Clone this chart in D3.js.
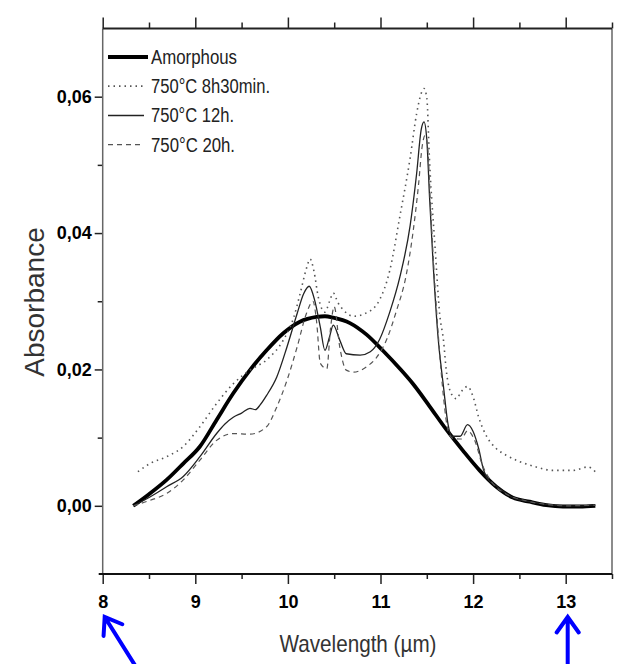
<!DOCTYPE html>
<html>
<head>
<meta charset="utf-8">
<script src="https://cdn.jsdelivr.net/npm/d3@7"></script>
<style>
  body { margin: 0; background: #ffffff; }
</style>
</head>
<body>
<div id="chart"></div>
<script>
// wavelength (um), absorbance
let amorphous = [
  [8.33, 0.0000], [8.50, 0.0017], [8.69, 0.0038], [8.87, 0.0062], [9.05, 0.0087],
  [9.23, 0.0126], [9.41, 0.0165], [9.59, 0.0199], [9.77, 0.0228], [9.95, 0.0253],
  [10.13, 0.0270], [10.31, 0.0277], [10.40, 0.0278], [10.49, 0.0276], [10.67, 0.0268],
  [10.85, 0.0251], [11.03, 0.0227], [11.21, 0.0201], [11.35, 0.0179], [11.53, 0.0146],
  [11.71, 0.0112], [11.89, 0.0081], [12.07, 0.0052], [12.25, 0.0028], [12.43, 0.0012],
  [12.61, 0.0006], [12.79, 0.0001], [12.97, -0.0001], [13.15, -0.0001], [13.32, 0.0000]
]
let h8m30 = [
  [8.38, 0.0050], [8.51, 0.0062], [8.69, 0.0072], [8.87, 0.0087], [9.05, 0.0116],
  [9.23, 0.0150], [9.41, 0.0179], [9.59, 0.0199], [9.77, 0.0214], [9.95, 0.0243],
  [10.06, 0.0275], [10.13, 0.0310], [10.20, 0.0348], [10.24, 0.0362], [10.28, 0.0345],
  [10.33, 0.0305], [10.40, 0.0284], [10.45, 0.0300], [10.49, 0.0312], [10.54, 0.0298],
  [10.60, 0.0287], [10.71, 0.0278], [10.85, 0.0283], [10.99, 0.0302], [11.10, 0.0345],
  [11.21, 0.0425], [11.32, 0.0510], [11.39, 0.0575], [11.44, 0.0605], [11.47, 0.0612],
  [11.50, 0.0598], [11.53, 0.0505], [11.59, 0.0378], [11.64, 0.0280], [11.68, 0.0243],
  [11.71, 0.0199], [11.77, 0.0163], [11.82, 0.0157], [11.87, 0.0167], [11.94, 0.0175],
  [12.00, 0.0160], [12.06, 0.0130], [12.15, 0.0101], [12.25, 0.0084], [12.36, 0.0074],
  [12.50, 0.0065], [12.68, 0.0057], [12.86, 0.0052], [13.08, 0.0052], [13.24, 0.0057],
  [13.32, 0.0050]
]
let h12 = [
  [8.33, 0.0000], [8.51, 0.0013], [8.69, 0.0028], [8.87, 0.0043], [9.05, 0.0072],
  [9.23, 0.0106], [9.32, 0.0120], [9.41, 0.0130], [9.50, 0.0136], [9.59, 0.0143],
  [9.65, 0.0141], [9.70, 0.0148], [9.77, 0.0162], [9.88, 0.0189], [9.99, 0.0233],
  [10.10, 0.0282], [10.17, 0.0311], [10.23, 0.0322], [10.29, 0.0301], [10.35, 0.0262],
  [10.40, 0.0228], [10.45, 0.0248], [10.49, 0.0265], [10.56, 0.0243], [10.63, 0.0223],
  [10.78, 0.0221], [10.89, 0.0226], [10.99, 0.0244], [11.10, 0.0284], [11.21, 0.0336],
  [11.32, 0.0411], [11.39, 0.0487], [11.44, 0.0552], [11.47, 0.0563], [11.50, 0.0537],
  [11.53, 0.0452], [11.57, 0.0351], [11.62, 0.0250], [11.68, 0.0175], [11.73, 0.0119],
  [11.77, 0.0102], [11.86, 0.0102], [11.94, 0.0119], [12.00, 0.0109], [12.06, 0.0084],
  [12.11, 0.0054], [12.15, 0.0041], [12.25, 0.0029], [12.43, 0.0012], [12.61, 0.0006],
  [12.79, 0.0002], [12.97, 0.0000], [13.15, 0.0000], [13.32, 0.0001]
]
let h20 = [
  [8.33, 0.0000], [8.51, 0.0008], [8.69, 0.0018], [8.87, 0.0038], [9.05, 0.0067],
  [9.23, 0.0096], [9.41, 0.0106], [9.59, 0.0105], [9.77, 0.0116], [9.88, 0.0145],
  [9.99, 0.0184], [10.10, 0.0233], [10.20, 0.0282], [10.27, 0.0300], [10.31, 0.0270],
  [10.35, 0.0209], [10.42, 0.0201], [10.46, 0.0260], [10.50, 0.0292], [10.56, 0.0233],
  [10.63, 0.0199], [10.71, 0.0196], [10.85, 0.0204], [10.96, 0.0218], [11.07, 0.0245],
  [11.17, 0.0285], [11.28, 0.0340], [11.35, 0.0400], [11.41, 0.0470], [11.45, 0.0527],
  [11.48, 0.0543], [11.51, 0.0525], [11.54, 0.0440], [11.58, 0.0340], [11.63, 0.0240],
  [11.68, 0.0160], [11.73, 0.0110], [11.78, 0.0099], [11.87, 0.0098], [11.94, 0.0110],
  [12.02, 0.0095], [12.10, 0.0060], [12.20, 0.0035], [12.36, 0.0017], [12.55, 0.0008],
  [12.79, 0.0002], [13.00, 0.0000], [13.32, 0.0001]
]
let seriesNames = ['Amorphous', '750°C 8h30min.', '750°C 12h.', '750°C 20h.']
let xMajorTicks = [8, 9, 10, 11, 12, 13]
let xMinorTicks = [8.5, 9.5, 10.5, 11.5, 12.5, 13.5]
let yMajorTicks = [0, 0.02, 0.04, 0.06]
let yMinorTicks = [0.01, 0.03, 0.05]
let arrowTargets = [8, 13]

let width = 625
let height = 664
let svg = d3.select('#chart')
  .append('svg')
  .attr('width', width)
  .attr('height', height)

svg.append('rect')
  .attr('width', width)
  .attr('height', height)
  .attr('fill', '#ffffff')

let x = d3.scaleLinear().domain([8, 13.5]).range([102.7, 612])
let y = d3.scaleLinear().domain([-0.01, 0.07]).range([574, 28.5])

let comma = d3.formatLocale({ decimal: ',', thousands: '.', grouping: [3], currency: ['', ''] }).format('.2f')

// axes
function styleAxis (g) {
  g.select('.domain').remove()
  g.selectAll('.tick line').attr('stroke', '#222').attr('stroke-width', 1.5)
  g.selectAll('.tick text')
    .attr('fill', '#000')
    .style('font-family', 'Liberation Sans, Arial, sans-serif')
    .style('font-weight', 'bold')
    .style('font-size', '18px')
}

svg.append('g')
  .attr('transform', 'translate(0,' + y.range()[0] + ')')
  .call(d3.axisBottom(x).tickValues(xMajorTicks).tickSize(10).tickPadding(11).tickFormat(d3.format('d')))
  .call(styleAxis)
svg.append('g')
  .attr('transform', 'translate(0,' + y.range()[0] + ')')
  .call(d3.axisBottom(x).tickValues(xMinorTicks).tickSize(5).tickFormat(''))
  .call(styleAxis)
svg.append('g')
  .attr('transform', 'translate(0,' + y.range()[1] + ')')
  .call(d3.axisTop(x).tickValues(xMajorTicks).tickSize(11).tickFormat(''))
  .call(styleAxis)
svg.append('g')
  .attr('transform', 'translate(0,' + y.range()[1] + ')')
  .call(d3.axisTop(x).tickValues(xMinorTicks).tickSize(6).tickFormat(''))
  .call(styleAxis)
svg.append('g')
  .attr('transform', 'translate(' + x.range()[0] + ',0)')
  .call(d3.axisLeft(y).tickValues(yMajorTicks).tickSize(8).tickPadding(3).tickFormat(comma))
  .call(styleAxis)
svg.append('g')
  .attr('transform', 'translate(' + x.range()[0] + ',0)')
  .call(d3.axisLeft(y).tickValues(yMinorTicks).tickSize(5).tickFormat(''))
  .call(styleAxis)

// frame
let frame = svg.append('g').attr('fill', 'none')
frame.append('line')
  .attr('x1', x.range()[0]).attr('x2', x.range()[0])
  .attr('y1', y.range()[1]).attr('y2', y.range()[0])
  .attr('stroke', '#666').attr('stroke-width', 1.5)
frame.append('line')
  .attr('x1', x.range()[1]).attr('x2', x.range()[1])
  .attr('y1', y.range()[1]).attr('y2', y.range()[0])
  .attr('stroke', '#666').attr('stroke-width', 1.5)
frame.append('line')
  .attr('x1', x.range()[0] - 4).attr('x2', x.range()[1])
  .attr('y1', y.range()[0]).attr('y2', y.range()[0])
  .attr('stroke', '#111').attr('stroke-width', 2)
frame.append('line')
  .attr('x1', x.range()[0]).attr('x2', x.range()[1])
  .attr('y1', y.range()[1]).attr('y2', y.range()[1])
  .attr('stroke', '#222').attr('stroke-width', 1.8)

// curves
let styles = [
  { stroke: '#000', width: 3.8, dash: null },
  { stroke: '#555', width: 1.6, dash: '1.5,4' },
  { stroke: '#222', width: 1.3, dash: null },
  { stroke: '#555', width: 1.2, dash: '5,4' }
]
let allSeries = [amorphous, h8m30, h12, h20]
let line = d3.line()
  .x(function (d) { return x(d[0]) })
  .y(function (d) { return y(d[1]) })
  .curve(d3.curveMonotoneX)

svg.append('g')
  .selectAll('path.series')
  .data(allSeries)
  .enter()
  .append('path')
  .attr('class', 'series')
  .attr('fill', 'none')
  .attr('d', line)
  .attr('stroke', function (d, i) { return styles[i].stroke })
  .attr('stroke-width', function (d, i) { return styles[i].width })
  .attr('stroke-dasharray', function (d, i) { return styles[i].dash })
  .attr('stroke-linejoin', 'round')

// legend
let legendLengths = [86, 119, 83, 84]
let legend = svg.append('g')
  .selectAll('g.legend')
  .data(seriesNames)
  .enter()
  .append('g')
  .attr('class', 'legend')
  .attr('transform', function (d, i) { return 'translate(0,' + (57 + i * 29.2) + ')' })

legend.append('line')
  .attr('x1', 108)
  .attr('x2', function (d, i) { return i === 0 ? 148 : 144 })
  .attr('stroke', function (d, i) { return styles[i].stroke })
  .attr('stroke-width', function (d, i) { return i === 0 ? 4 : styles[i].width + 0.2 })
  .attr('stroke-dasharray', function (d, i) { return styles[i].dash })

legend.append('text')
  .attr('x', 151)
  .attr('y', 7)
  .attr('textLength', function (d, i) { return legendLengths[i] })
  .attr('lengthAdjust', 'spacingAndGlyphs')
  .style('font-family', 'Liberation Sans Narrow, Arial Narrow, Liberation Sans, sans-serif')
  .style('font-size', '20px')
  .attr('fill', '#222')
  .text(function (d) { return d })

// axis titles
svg.append('text')
  .attr('transform', 'translate(44,302) rotate(-90)')
  .attr('text-anchor', 'middle')
  .style('font-family', 'Liberation Sans, Arial, sans-serif')
  .style('font-size', '28px')
  .attr('fill', '#333')
  .text('Absorbance')

svg.append('text')
  .attr('x', 358)
  .attr('y', 652)
  .attr('text-anchor', 'middle')
  .attr('textLength', 157)
  .attr('lengthAdjust', 'spacingAndGlyphs')
  .style('font-family', 'Liberation Sans Narrow, Arial Narrow, Liberation Sans, sans-serif')
  .style('font-size', '24px')
  .attr('fill', '#333')
  .text('Wavelength (µm)')

// blue arrows pointing at the axis ends
let arrowDx = [32, 0]
let arrows = svg.append('g')
  .selectAll('g.arrow')
  .data(arrowTargets)
  .enter()
  .append('g')
  .attr('class', 'arrow')
  .attr('fill', 'none')
  .attr('stroke', '#0000ff')
  .attr('stroke-width', 4)
  .attr('stroke-linecap', 'round')

arrows.append('path')
  .attr('d', function (d, i) {
    let tx = x(d) + 2
    let ty = 617
    let bx = tx + arrowDx[i]
    let by = 668
    let a = Math.atan2(by - ty, bx - tx)
    let len = 19
    let spread = 0.62
    let p1 = [tx + len * Math.cos(a - spread), ty + len * Math.sin(a - spread)]
    let p2 = [tx + len * Math.cos(a + spread), ty + len * Math.sin(a + spread)]
    return 'M' + bx + ',' + by + 'L' + tx + ',' + ty +
      'M' + p1[0] + ',' + p1[1] + 'L' + tx + ',' + ty + 'L' + p2[0] + ',' + p2[1]
  })
</script>
</body>
</html>
